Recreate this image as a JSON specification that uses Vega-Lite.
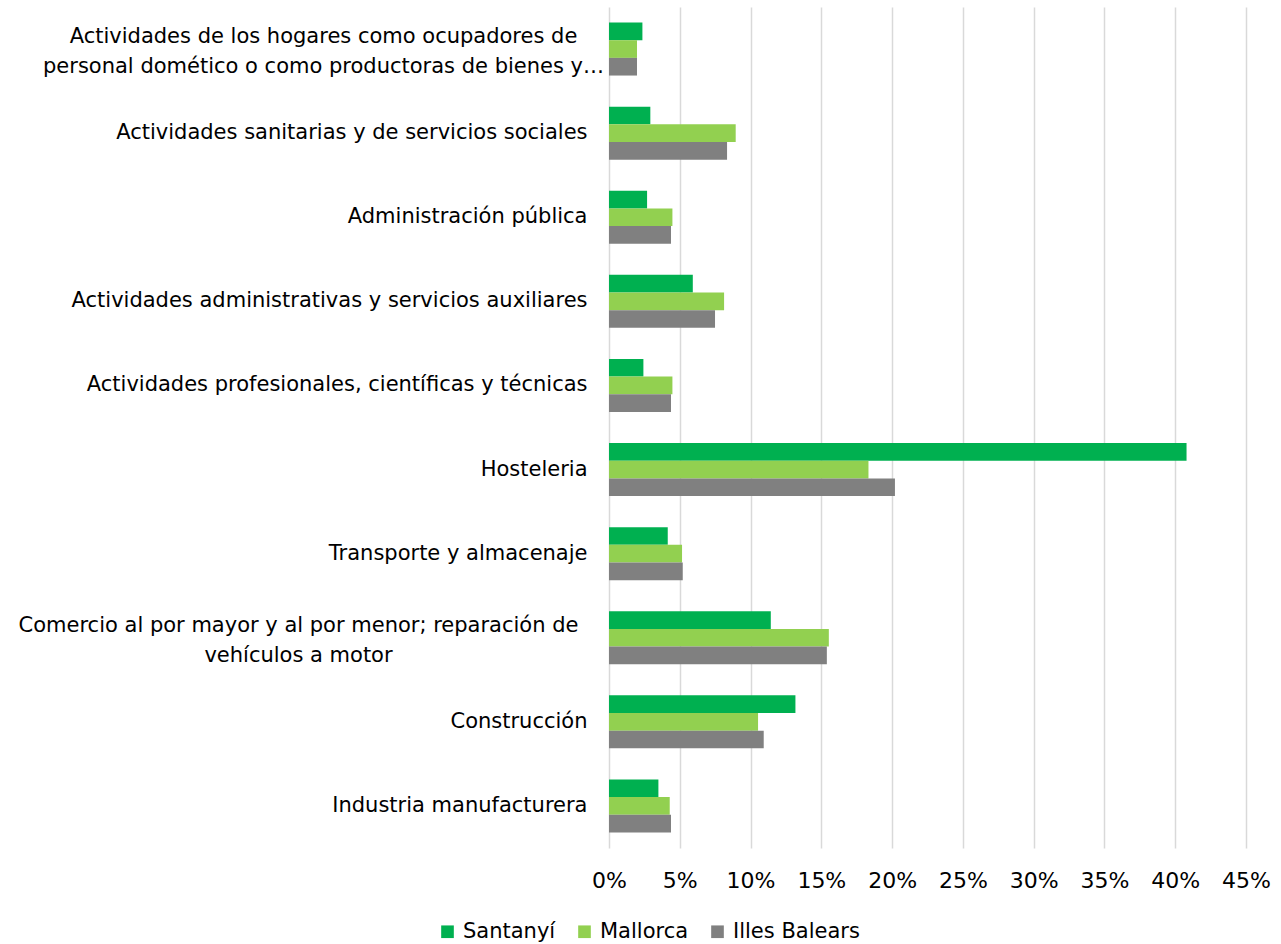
{
  "$schema": "https://vega.github.io/schema/vega-lite/v6.json",
  "autosize": {"type": "none"},
  "padding": {"left": 609, "top": 7, "right": 35, "bottom": 96},
  "width": 637,
  "height": 841,
  "background": "white",
  "config": {
    "font": "DejaVu Sans",
    "view": {"stroke": null}
  },
  "data": {
    "values": [
      {"sector": "Actividades de los hogares", "serie": "Santanyí", "valor": 0.0236},
      {"sector": "Actividades de los hogares", "serie": "Mallorca", "valor": 0.0198},
      {"sector": "Actividades de los hogares", "serie": "Illes Balears", "valor": 0.0198},
      {"sector": "Actividades sanitarias y de servicios sociales", "serie": "Santanyí", "valor": 0.0292},
      {"sector": "Actividades sanitarias y de servicios sociales", "serie": "Mallorca", "valor": 0.0895},
      {"sector": "Actividades sanitarias y de servicios sociales", "serie": "Illes Balears", "valor": 0.0834},
      {"sector": "Administración pública", "serie": "Santanyí", "valor": 0.0269},
      {"sector": "Administración pública", "serie": "Mallorca", "valor": 0.0448},
      {"sector": "Administración pública", "serie": "Illes Balears", "valor": 0.0438},
      {"sector": "Actividades administrativas y servicios auxiliares", "serie": "Santanyí", "valor": 0.0592},
      {"sector": "Actividades administrativas y servicios auxiliares", "serie": "Mallorca", "valor": 0.0813},
      {"sector": "Actividades administrativas y servicios auxiliares", "serie": "Illes Balears", "valor": 0.0749},
      {"sector": "Actividades profesionales, científicas y técnicas", "serie": "Santanyí", "valor": 0.0243},
      {"sector": "Actividades profesionales, científicas y técnicas", "serie": "Mallorca", "valor": 0.0448},
      {"sector": "Actividades profesionales, científicas y técnicas", "serie": "Illes Balears", "valor": 0.0438},
      {"sector": "Hosteleria", "serie": "Santanyí", "valor": 0.408},
      {"sector": "Hosteleria", "serie": "Mallorca", "valor": 0.1833},
      {"sector": "Hosteleria", "serie": "Illes Balears", "valor": 0.202},
      {"sector": "Transporte y almacenaje", "serie": "Santanyí", "valor": 0.0415},
      {"sector": "Transporte y almacenaje", "serie": "Mallorca", "valor": 0.0516},
      {"sector": "Transporte y almacenaje", "serie": "Illes Balears", "valor": 0.0521},
      {"sector": "Comercio", "serie": "Santanyí", "valor": 0.1143},
      {"sector": "Comercio", "serie": "Mallorca", "valor": 0.1553},
      {"sector": "Comercio", "serie": "Illes Balears", "valor": 0.1539},
      {"sector": "Construcción", "serie": "Santanyí", "valor": 0.1317},
      {"sector": "Construcción", "serie": "Mallorca", "valor": 0.1053},
      {"sector": "Construcción", "serie": "Illes Balears", "valor": 0.1093},
      {"sector": "Industria manufacturera", "serie": "Santanyí", "valor": 0.0349},
      {"sector": "Industria manufacturera", "serie": "Mallorca", "valor": 0.0429},
      {"sector": "Industria manufacturera", "serie": "Illes Balears", "valor": 0.0438}
    ]
  },
  "mark": {"type": "bar"},
  "encoding": {
    "y": {
      "field": "sector",
      "type": "nominal",
      "sort": null,
      "scale": {"paddingInner": 0.37, "paddingOuter": 0.185},
      "axis": {
        "title": null,
        "domain": false,
        "ticks": false,
        "labelPadding": {"condition": [{"test": "datum.value == 'Actividades de los hogares'", "value": 286}, {"test": "datum.value == 'Comercio'", "value": 311}], "value": 22},
        "labelAlign": {"condition": {"test": "datum.value == 'Actividades de los hogares' || datum.value == 'Comercio'", "value": "center"}, "value": "right"},
        "labelFontSize": 21,
        "labelColor": "#000000",
        "labelLimit": 700,
        "labelLineHeight": 30,
        "labelOffset": {"condition": {"test": "datum.value == 'Actividades de los hogares' || datum.value == 'Comercio'", "value": -12}, "value": 0},
        "labelExpr": "datum.label == 'Actividades de los hogares' ? ['Actividades de los hogares como ocupadores de', 'personal domético o como productoras de bienes y…'] : datum.label == 'Comercio' ? ['Comercio al por mayor y al por menor; reparación de', 'vehículos a motor'] : datum.label"
      }
    },
    "yOffset": {
      "field": "serie",
      "type": "nominal",
      "sort": ["Santanyí", "Mallorca", "Illes Balears"]
    },
    "x": {
      "field": "valor",
      "type": "quantitative",
      "scale": {"domain": [0, 0.45], "nice": false},
      "axis": {
        "title": null,
        "format": ".0%",
        "values": [0, 0.05, 0.1, 0.15, 0.2, 0.25, 0.3, 0.35, 0.4, 0.45],
        "domain": false,
        "ticks": false,
        "labelFlush": false,
        "labelOverlap": false,
        "labelPadding": 22,
        "labelFontSize": 22,
        "labelColor": "#000000",
        "grid": true,
        "gridColor": "#D9D9D9",
        "gridWidth": 1.5
      }
    },
    "color": {
      "field": "serie",
      "type": "nominal",
      "sort": ["Santanyí", "Mallorca", "Illes Balears"],
      "scale": {"domain": ["Santanyí", "Mallorca", "Illes Balears"], "range": ["#00B050", "#92D050", "#808080"]},
      "legend": {
        "title": null,
        "orient": "none",
        "direction": "horizontal",
        "legendX": -172,
        "legendY": 914,
        "symbolType": "square",
        "symbolSize": 160,
        "symbolStrokeWidth": 0,
        "labelFontSize": 21,
        "labelColor": "#000000",
        "labelOffset": 5,
        "columnPadding": 18
      }
    }
  }
}
